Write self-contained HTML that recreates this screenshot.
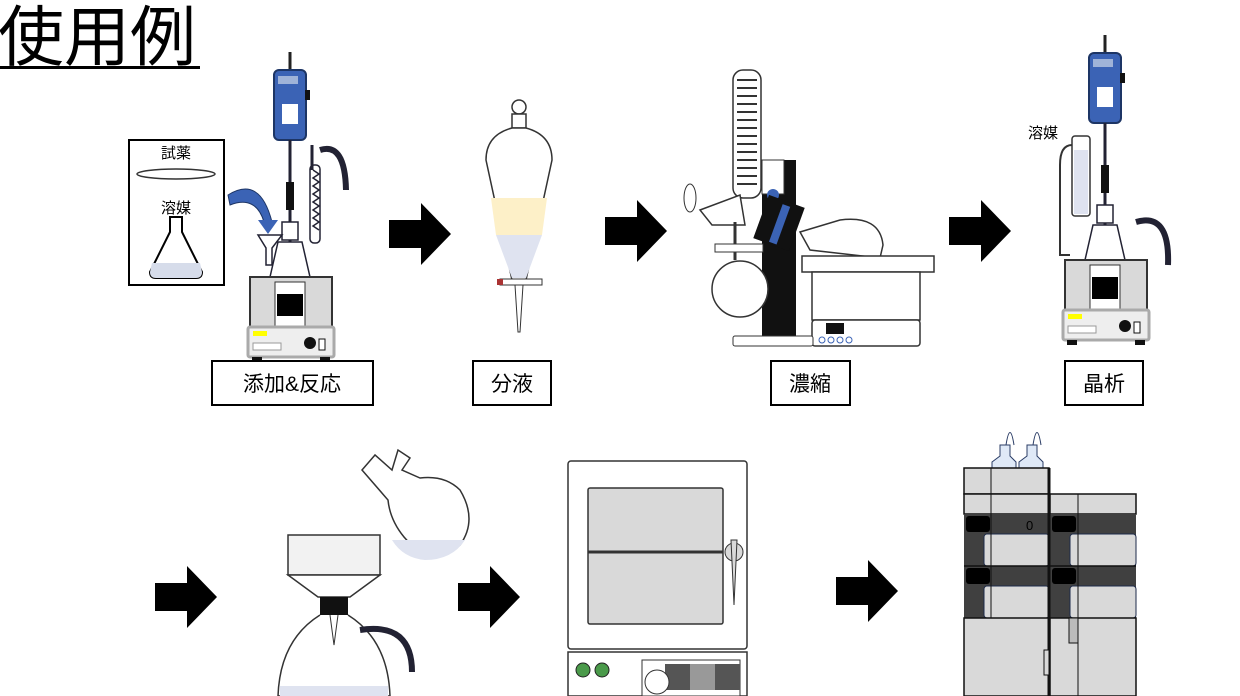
<!DOCTYPE html>
<html><head><meta charset="utf-8"><style>
html,body{margin:0;padding:0;background:#fff}
svg{display:block}
text{font-family:"Liberation Sans","Noto Sans CJK JP",sans-serif}
</style></head><body>
<svg width="1240" height="696" viewBox="0 0 1240 696" xmlns="http://www.w3.org/2000/svg">
<defs>
<g id="arrow"><polygon points="0,17 32,17 32,0 62,31 32,62 32,45 0,45" fill="#000"/></g>
<g id="stir">
 <line x1="42" y1="0" x2="42" y2="20" stroke="#222" stroke-width="3"/>
 <rect x="26" y="18" width="32" height="70" rx="5" fill="#3b63b5" stroke="#1d3565" stroke-width="2"/>
 <rect x="30" y="24" width="20" height="8" fill="#9fb3d8"/>
 <rect x="34" y="52" width="16" height="20" fill="#fff"/>
 <rect x="57" y="38" width="5" height="10" fill="#111"/>
 <line x1="42" y1="88" x2="42" y2="225" stroke="#223" stroke-width="3"/>
 <rect x="38" y="130" width="8" height="28" fill="#111"/>
 <path d="M22 225 L30 190 L54 190 L62 225 Z" fill="#fff" stroke="#223" stroke-width="1.5"/>
 <rect x="34" y="170" width="16" height="18" fill="#fff" stroke="#223" stroke-width="1.5"/>
 <rect x="2" y="225" width="82" height="50" fill="#d9d9d9" stroke="#333" stroke-width="2"/>
 <rect x="27" y="230" width="30" height="44" fill="#fff" stroke="#333"/>
 <rect x="29" y="242" width="26" height="22" fill="#000"/>
 <rect x="0" y="275" width="86" height="30" rx="2" fill="#eee" stroke="#aaa" stroke-width="3"/>
 <rect x="5" y="279" width="14" height="5" fill="#ff0"/>
 <rect x="5" y="291" width="28" height="7" fill="#fff" stroke="#999"/>
 <circle cx="62" cy="291" r="6" fill="#111"/>
 <rect x="71" y="287" width="6" height="11" fill="#fff" stroke="#111"/>
 <rect x="4" y="305" width="10" height="5" fill="#111"/><rect x="72" y="305" width="10" height="5" fill="#111"/>
</g>
</defs>

<text x="-2" y="60" font-size="66">使用例</text>
<rect x="0" y="66" width="200" height="3" fill="#000"/>

<rect x="129" y="140" width="95" height="145" fill="#fff" stroke="#000" stroke-width="2"/>
<text x="176" y="158" font-size="15" text-anchor="middle">試薬</text>
<ellipse cx="176" cy="174" rx="39" ry="5" fill="#fff" stroke="#333" stroke-width="1.5"/>
<text x="176" y="213" font-size="15" text-anchor="middle">溶媒</text>
<path d="M170 217 L182 217 L182 232 L202 272 Q202 278 196 278 L156 278 Q150 278 150 272 L170 232 Z" fill="#fff" stroke="#000" stroke-width="2"/>
<path d="M152 263 L200 263 L202 272 Q202 278 196 278 L156 278 Q150 278 150 272 Z" fill="#d6dcea"/>
<path d="M228 195 Q260 175 272 222 L264 222 Q256 195 230 205 Z" fill="#3b63b5" stroke="#1d3565"/>
<polygon points="258,220 278,220 268,234" fill="#3b63b5"/>
<use href="#stir" x="248" y="52"/>
<path d="M258 235 L282 235 L272 248 L272 265 L266 265 L266 248 Z" fill="#fff" stroke="#223" stroke-width="1.5"/>
<rect x="310" y="165" width="10" height="78" rx="4" fill="#fff" stroke="#223" stroke-width="1.5"/>
<path d="M313 170 l6 4 -6 4 6 4 -6 4 6 4 -6 4 6 4 -6 4 6 4 -6 4 6 4 -6 4 6 4 -6 4 6 4" fill="none" stroke="#223" stroke-width="1.5"/>
<path d="M320 150 Q345 142 346 190" fill="none" stroke="#223" stroke-width="6"/>
<line x1="312" y1="145" x2="312" y2="170" stroke="#223" stroke-width="3"/>
<rect x="212" y="361" width="161" height="44" fill="#fff" stroke="#000" stroke-width="2"/>
<text x="292" y="391" font-size="21" text-anchor="middle">添加&amp;反応</text>

<use href="#arrow" x="389" y="203"/>

<circle cx="519" cy="107" r="7" fill="#fff" stroke="#333" stroke-width="1.5"/>
<rect x="512" y="114" width="14" height="14" fill="#fff" stroke="#333" stroke-width="1.5"/>
<path d="M512 128 Q486 135 486 160 L512 280 L526 280 L552 160 Q552 135 526 128 Z" fill="#fff" stroke="#333" stroke-width="1.5"/>
<path d="M491 198 L547 198 L542 235 L496 235 Z" fill="#fdf0c8"/>
<path d="M496 235 L542 235 L526 278 L512 278 Z" fill="#dfe3f0"/>
<rect x="500" y="279" width="42" height="6" fill="#fff" stroke="#333"/>
<rect x="497" y="279" width="6" height="6" fill="#a33"/>
<path d="M515 285 L523 285 L520 332 L518 332 Z" fill="#fff" stroke="#333"/>
<rect x="473" y="361" width="78" height="44" fill="#fff" stroke="#000" stroke-width="2"/>
<text x="512" y="391" font-size="21" text-anchor="middle">分液</text>

<use href="#arrow" x="605" y="200"/>

<rect x="733" y="70" width="28" height="128" rx="10" fill="#fff" stroke="#333" stroke-width="1.5"/>
<path d="M737 80 h20 M737 88 h20 M737 96 h20 M737 104 h20 M737 112 h20 M737 120 h20 M737 128 h20 M737 136 h20 M737 144 h20 M737 152 h20 M737 160 h20 M737 168 h20 M737 176 h20 M737 184 h20" stroke="#333" stroke-width="2"/>
<rect x="762" y="160" width="34" height="176" fill="#111"/>
<rect x="762" y="160" width="22" height="34" fill="#fff" stroke="#333"/>
<circle cx="773" cy="195" r="6" fill="#3b63b5"/>
<path d="M700 210 L740 195 L745 225 L712 225 Z" fill="#fff" stroke="#333" stroke-width="1.5"/>
<ellipse cx="690" cy="198" rx="6" ry="14" fill="#fff" stroke="#333"/>
<rect x="760" y="200" width="38" height="46" fill="#111" transform="rotate(20 779 223)"/>
<rect x="776" y="204" width="8" height="40" fill="#3b63b5" transform="rotate(20 779 223)"/>
<path d="M800 232 L840 220 Q880 215 883 245 L880 258 L810 250 Z" fill="#fff" stroke="#333" stroke-width="1.5"/>
<line x1="735" y1="222" x2="735" y2="260" stroke="#333" stroke-width="3"/>
<circle cx="740" cy="289" r="28" fill="#fff" stroke="#333" stroke-width="1.5"/>
<rect x="715" y="244" width="48" height="8" fill="#fff" stroke="#333"/>
<rect x="802" y="256" width="132" height="16" fill="#fff" stroke="#333" stroke-width="1.5"/>
<path d="M812 272 L920 272 L920 320 L812 320 Z" fill="#fff" stroke="#333" stroke-width="1.5"/>
<rect x="812" y="320" width="108" height="26" rx="3" fill="#fff" stroke="#333" stroke-width="1.5"/>
<rect x="826" y="323" width="18" height="11" fill="#111"/>
<g fill="#fff" stroke="#3b63b5"><circle cx="822" cy="340" r="3"/><circle cx="831" cy="340" r="3"/><circle cx="840" cy="340" r="3"/><circle cx="849" cy="340" r="3"/></g>
<rect x="733" y="336" width="80" height="10" rx="2" fill="#fff" stroke="#333"/>
<rect x="771" y="361" width="79" height="44" fill="#fff" stroke="#000" stroke-width="2"/>
<text x="810" y="391" font-size="21" text-anchor="middle">濃縮</text>

<use href="#arrow" x="949" y="200"/>

<use href="#stir" x="1063" y="35"/>
<text x="1043" y="138" font-size="15" text-anchor="middle">溶媒</text>
<rect x="1072" y="136" width="18" height="80" rx="3" fill="#fff" stroke="#333" stroke-width="1.5"/>
<rect x="1074" y="150" width="14" height="64" fill="#dfe3f0"/>
<path d="M1072 145 Q1060 145 1060 165 L1060 255 L1070 255" fill="none" stroke="#333" stroke-width="2"/>
<path d="M1136 222 Q1170 212 1168 265" fill="none" stroke="#223" stroke-width="6"/>
<rect x="1065" y="361" width="78" height="44" fill="#fff" stroke="#000" stroke-width="2"/>
<text x="1104" y="391" font-size="21" text-anchor="middle">晶析</text>

<use href="#arrow" x="155" y="566"/>
<path d="M375 455 L362 470 L388 500 Q390 520 404 537 Q430 568 460 545 Q478 520 460 490 Q445 475 420 478 L402 470 L410 458 L398 450 L392 470 Z" fill="#fff" stroke="#333" stroke-width="1.5"/>
<path d="M392 540 L465 540 Q452 560 425 560 Q403 558 392 540 Z" fill="#dfe3f0"/>
<rect x="288" y="535" width="92" height="40" fill="#f2f2f2" stroke="#333" stroke-width="1.5"/>
<path d="M288 575 L380 575 L350 597 L318 597 Z" fill="#fff" stroke="#333" stroke-width="1.5"/>
<rect x="320" y="597" width="28" height="18" fill="#111"/>
<path d="M320 615 Q280 640 278 696 L390 696 Q388 640 348 615" fill="#fff" stroke="#333" stroke-width="1.5"/>
<rect x="280" y="686" width="108" height="10" fill="#dfe3f0"/>
<path d="M330 615 L334 645 L338 615" fill="#fff" stroke="#333"/>
<path d="M360 630 Q412 622 412 672" fill="none" stroke="#223" stroke-width="6"/>

<use href="#arrow" x="458" y="566"/>
<rect x="568" y="461" width="179" height="188" rx="3" fill="#fff" stroke="#333" stroke-width="1.5"/>
<rect x="588" y="488" width="135" height="136" rx="2" fill="#d9d9d9" stroke="#333" stroke-width="1.5"/>
<line x1="588" y1="552" x2="723" y2="552" stroke="#333" stroke-width="3"/>
<circle cx="734" cy="552" r="9" fill="#d9d9d9" stroke="#333"/>
<path d="M731 540 L737 540 L734 605 Z" fill="#d9d9d9" stroke="#333"/>
<rect x="568" y="652" width="179" height="44" fill="#fff" stroke="#333" stroke-width="1.5"/>
<circle cx="583" cy="670" r="7" fill="#4a9a4a" stroke="#222"/><circle cx="602" cy="670" r="7" fill="#4a9a4a" stroke="#222"/>
<rect x="642" y="660" width="98" height="36" fill="#fff" stroke="#333"/>
<rect x="665" y="664" width="75" height="26" fill="#555"/>
<rect x="690" y="664" width="25" height="26" fill="#999"/>
<circle cx="657" cy="682" r="12" fill="#fff" stroke="#333"/>

<use href="#arrow" x="836" y="560"/>
<path d="M1000 445 L1000 456 L992 462 L992 468 L1016 468 L1016 462 L1010 456 L1010 445 Z" fill="#dfe9f7" stroke="#2b3d66"/>
<path d="M1027 445 L1027 456 L1019 462 L1019 468 L1043 468 L1043 462 L1037 456 L1037 445 Z" fill="#dfe9f7" stroke="#2b3d66"/>
<path d="M1006 445 Q1010 420 1014 445 M1033 445 Q1037 420 1041 445" fill="none" stroke="#2b3d66"/>
<rect x="964" y="468" width="85" height="26" fill="#d9d9d9" stroke="#111" stroke-width="1.5"/>
<rect x="964" y="494" width="85" height="20" fill="#d9d9d9" stroke="#111" stroke-width="1.5"/>
<rect x="1050" y="494" width="86" height="20" fill="#d9d9d9" stroke="#111" stroke-width="1.5"/>
<rect x="964" y="514" width="172" height="104" fill="#404040"/>
<g fill="#d9d9d9" stroke="#1d2a4a">
<rect x="984" y="534" width="65" height="32" rx="3"/><rect x="1070" y="534" width="66" height="32" rx="3"/>
<rect x="984" y="586" width="65" height="32" rx="3"/><rect x="1070" y="586" width="66" height="32" rx="3"/>
</g>
<line x1="964" y1="566" x2="1136" y2="566" stroke="#111" stroke-width="1.5"/>
<g fill="#000"><rect x="966" y="516" width="24" height="16" rx="3"/><rect x="1052" y="516" width="24" height="16" rx="3"/><rect x="966" y="568" width="24" height="16" rx="3"/><rect x="1052" y="568" width="24" height="16" rx="3"/></g>
<text x="1026" y="530" font-size="13" font-family="Liberation Serif">0</text>
<rect x="964" y="618" width="85" height="78" fill="#d9d9d9" stroke="#111" stroke-width="1.5"/>
<rect x="1050" y="618" width="86" height="78" fill="#d9d9d9" stroke="#111" stroke-width="1.5"/>
<line x1="991" y1="468" x2="991" y2="618" stroke="#111"/>
<line x1="1078" y1="494" x2="1078" y2="696" stroke="#111"/>
<line x1="1049" y1="468" x2="1049" y2="696" stroke="#111" stroke-width="3"/>
<rect x="1069" y="618" width="9" height="25" fill="#bbb" stroke="#111"/>
<rect x="1044" y="650" width="5" height="25" fill="#d9d9d9" stroke="#111"/>
</svg>
</body></html>
